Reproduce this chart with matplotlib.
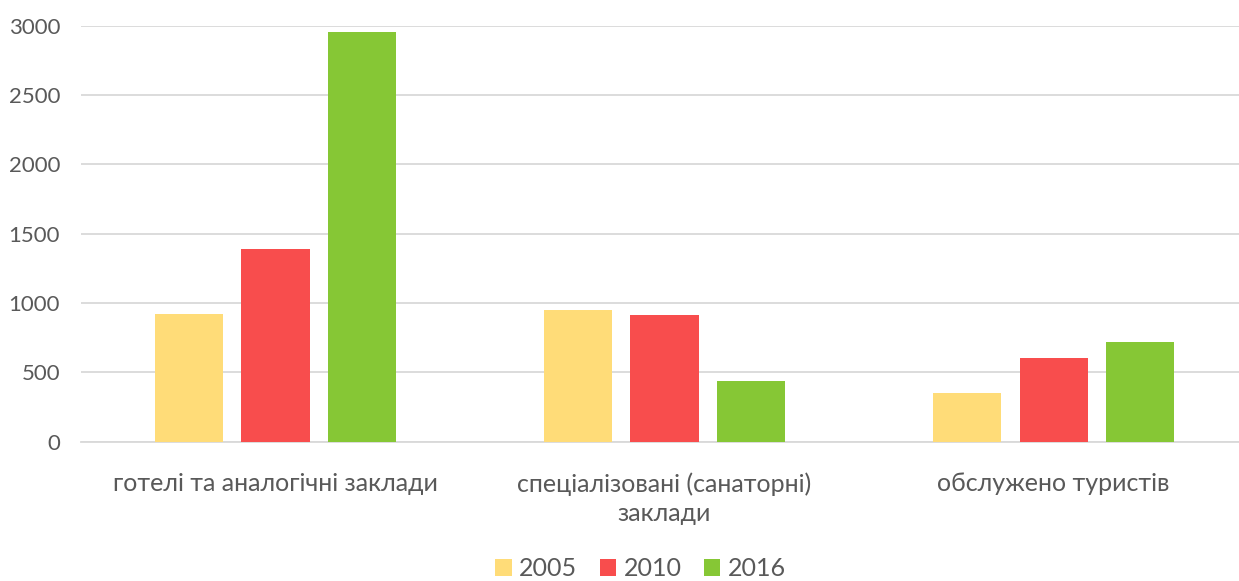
import numpy as np
import matplotlib
matplotlib.use('Agg')
import matplotlib.pyplot as plt

plt.rcParams['font.family'] = ['Lato', 'DejaVu Sans']

categories = ['готелі та аналогічні заклади', 'спеціалізовані (санаторні)\nзаклади', 'обслужено туристів']
years = ['2005', '2010', '2016']
vals_2005 = [920, 950, 351]
vals_2010 = [1387, 913, 603]
vals_2016 = [2954, 440, 719]
series = [vals_2005, vals_2010, vals_2016]
colors = ['#FFDC78', '#F84D4D', '#86C735']
text_color = '#595959'

fig = plt.figure(figsize=(12.39, 5.81), dpi=100)
ax = fig.add_axes([0.0654, 0.2398, 0.9419, 0.716])

x = np.arange(len(categories))
width = 0.175
step = 0.222
for i, (vals, c, lab) in enumerate(zip(series, colors, years)):
    ax.bar(x + (i - 1) * step, vals, width, color=c, label=lab, zorder=3)

ax.set_xlim(-0.5, 2.5)
ax.set_ylim(0, 3000)
ax.set_yticks(np.arange(0, 3001, 500))
ax.yaxis.grid(True, color='#D9D9D9', linewidth=1.3, zorder=0)
ax.set_axisbelow(True)
for s in ['top', 'right', 'left']:
    ax.spines[s].set_visible(False)
ax.spines['bottom'].set_color('#D9D9D9')
ax.spines['bottom'].set_linewidth(1.3)
ax.tick_params(axis='y', length=0, pad=15, labelsize=16, labelcolor=text_color)
ax.tick_params(axis='x', length=0, pad=22, labelsize=18, labelcolor=text_color)
ax.set_xticks(x)
ax.set_xticklabels(categories, linespacing=1.3)

fig.legend(loc='lower center', bbox_to_anchor=(0.517, -0.037), ncol=3, frameon=False,
           fontsize=18, labelcolor=text_color, handlelength=0.65, handleheight=0.65,
           handletextpad=0.3, columnspacing=0.9)

plt.savefig('out.png', dpi=100, facecolor='white')
